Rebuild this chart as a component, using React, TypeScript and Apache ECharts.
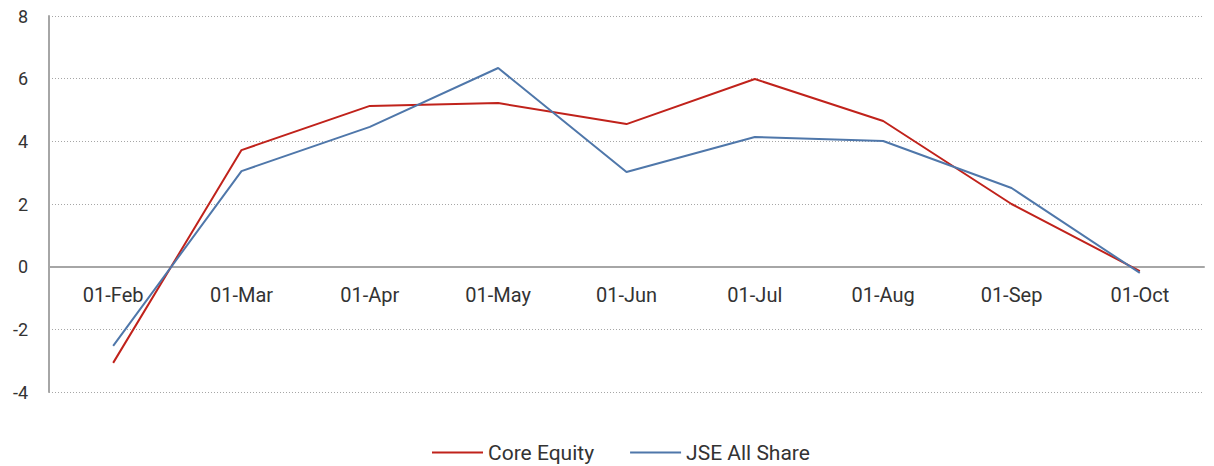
import React, { useEffect, useRef } from "react";
import * as echarts from "echarts";

const categories = ["01-Feb", "01-Mar", "01-Apr", "01-May", "01-Jun", "01-Jul", "01-Aug", "01-Sep", "01-Oct"];
const coreEquity = [-3.07, 3.72, 5.13, 5.22, 4.55, 5.99, 4.65, 2.0, -0.14];
const jseAllShare = [-2.53, 3.05, 4.46, 6.34, 3.02, 4.14, 4.01, 2.51, -0.2];
const yMin = -4;
const yMax = 8;

export default function App() {
  const ref = useRef<HTMLDivElement>(null);
  useEffect(() => {
    document.body.style.margin = "0";
    const chart = echarts.init(ref.current!, null, { renderer: "svg" });
    const font = "Roboto, 'DejaVu Sans', sans-serif";
    const gridTop = 16;
    const gridBottom = 74;
    const plotH = 466 - gridTop - gridBottom;
    const zeroOffset = -(plotH * (0 - yMin)) / (yMax - yMin);
    chart.setOption({
      animation: false,
      textStyle: { fontFamily: font },
      grid: { left: 49, right: 10, top: gridTop, bottom: gridBottom, containLabel: false },
      legend: {
        top: 437,
        left: 427,
        padding: 5,
        itemWidth: 51,
        itemHeight: 2,
        itemGap: 36,
        icon: "rect",
        textStyle: { fontSize: 21, color: "#333", fontFamily: font },
        data: ["Core Equity", "JSE All Share"],
      },
      xAxis: {
        type: "category",
        data: categories,
        boundaryGap: true,
        offset: zeroOffset,
        axisLine: { onZero: false, lineStyle: { color: "#a6a6a6", width: 2 } },
        axisTick: { show: false },
        axisLabel: { fontSize: 20, color: "#333", margin: 18, fontFamily: font },
        splitLine: { show: false },
      },
      yAxis: {
        type: "value",
        min: yMin,
        max: yMax,
        interval: 2,
        axisLine: { show: true, lineStyle: { color: "#a6a6a6", width: 2 } },
        axisTick: { show: false },
        axisLabel: { fontSize: 18, color: "#333", margin: 21, fontFamily: font },
        splitLine: { show: true, lineStyle: { color: "#a6a6a6", type: [1, 2], width: 1 } },
      },
      series: [
        {
          name: "Core Equity",
          type: "line",
          data: coreEquity,
          symbol: "none",
          lineStyle: { color: "#c0221b", width: 2 },
          itemStyle: { color: "#c0221b" },
        },
        {
          name: "JSE All Share",
          type: "line",
          data: jseAllShare,
          symbol: "none",
          lineStyle: { color: "#4f77aa", width: 2 },
          itemStyle: { color: "#4f77aa" },
        },
      ],
    });
    return () => chart.dispose();
  }, []);
  return <div ref={ref} style={{ width: 1214, height: 466 }} />;
}
